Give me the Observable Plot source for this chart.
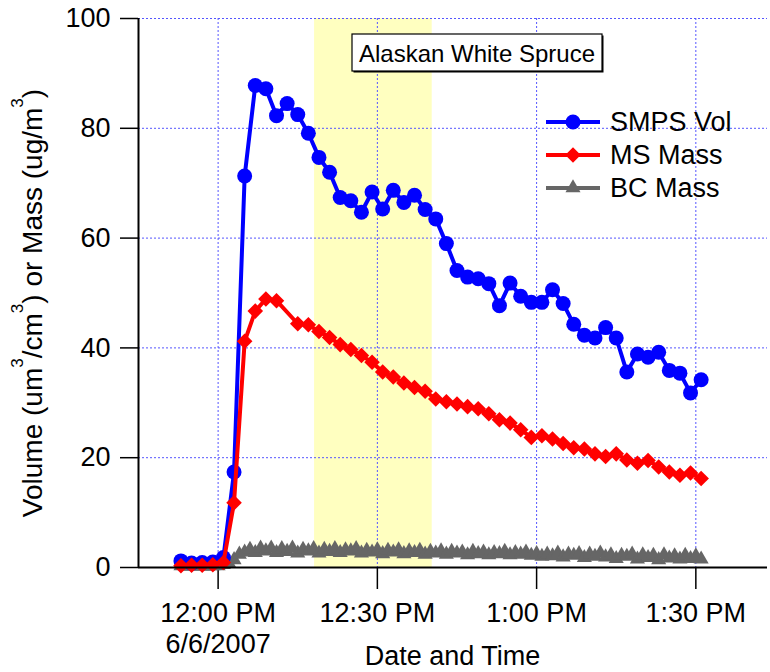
<!DOCTYPE html>
<html>
<head>
<meta charset="utf-8">
<script src="https://cdn.jsdelivr.net/npm/d3@7"></script>
<script src="https://cdn.jsdelivr.net/npm/@observablehq/plot@0.6"></script>
<style>
  html, body { margin: 0; padding: 0; background: #fff; }
  #chart svg { display: block; }
</style>
</head>
<body>
<div id="chart"></div>
<script>
// Sampling times (local clock, 6 June 2007) for the SMPS and MS instruments
const sampleTimes = [
  "11:53","11:55","11:57","11:59","12:01","12:03","12:05","12:07","12:09","12:11",
  "12:13","12:15","12:17","12:19","12:21","12:23","12:25","12:27","12:29","12:31",
  "12:33","12:35","12:37","12:39","12:41","12:43","12:45","12:47","12:49","12:51",
  "12:53","12:55","12:57","12:59","13:01","13:03","13:05","13:07","13:09","13:11",
  "13:13","13:15","13:17","13:19","13:21","13:23","13:25","13:27","13:29","13:31"
];

// SMPS volume concentration (um^3/cm^3)
const smpsVolume = [
  1.2, 0.8, 0.9, 1.0, 1.8, 17.4, 71.3, 87.8, 87.2, 82.3,
  84.5, 82.5, 79.1, 74.7, 72.0, 67.4, 66.8, 64.7, 68.4, 65.3,
  68.7, 66.5, 67.8, 65.2, 63.5, 59.0, 54.1, 52.9, 52.6, 51.7,
  47.7, 51.8, 49.4, 48.3, 48.3, 50.6, 48.1, 44.3, 42.3, 41.8,
  43.7, 41.8, 35.6, 38.9, 38.3, 39.2, 35.9, 35.4, 31.8, 34.2
];

// Aerosol mass spectrometer mass (ug/m^3); null = no sample
const msMass = [
  0.3, 0.4, 0.4, 0.5, 0.9, 11.8, 41.2, 46.7, 48.9, 48.6,
  null, 44.4, 44.2, 43.0, 41.9, 40.6, 39.7, 38.6, 37.4, 35.6,
  34.7, 33.6, 32.8, 32.1, 30.7, 30.2, 29.8, 29.3, 28.9, 28.0,
  26.9, 26.3, 25.1, 23.7, 24.0, 23.4, 22.6, 21.8, 21.6, 20.7,
  20.2, 20.7, 19.6, 19.0, 19.5, 18.3, 17.4, 16.8, 17.2, 16.2
];

// Black carbon, one-minute resolution
const bcTimes = [
  "11:53","11:54","11:55","11:56","11:57","11:58","11:59",
  "12:00","12:01","12:02","12:03","12:04","12:05","12:06","12:07","12:08","12:09",
  "12:10","12:11","12:12","12:13","12:14","12:15","12:16","12:17","12:18","12:19",
  "12:20","12:21","12:22","12:23","12:24","12:25","12:26","12:27","12:28","12:29",
  "12:30","12:31","12:32","12:33","12:34","12:35","12:36","12:37","12:38","12:39",
  "12:40","12:41","12:42","12:43","12:44","12:45","12:46","12:47","12:48","12:49",
  "12:50","12:51","12:52","12:53","12:54","12:55","12:56","12:57","12:58","12:59",
  "13:00","13:01","13:02","13:03","13:04","13:05","13:06","13:07","13:08","13:09",
  "13:10","13:11","13:12","13:13","13:14","13:15","13:16","13:17","13:18","13:19",
  "13:20","13:21","13:22","13:23","13:24","13:25","13:26","13:27","13:28","13:29",
  "13:30","13:31"
];
const bcMass = [
  0.3, 0.2, 0.3, 0.2, 0.3, 0.2, 0.3,
  0.3, 0.5, 0.8, 1.4, 2.4, 2.8, 3.3, 2.7, 3.5, 3.0,
  3.5, 2.7, 3.4, 2.9, 3.5, 2.6, 3.3, 3.0, 3.4, 2.6,
  3.3, 2.9, 3.4, 2.7, 3.2, 3.0, 3.4, 2.6, 3.1, 2.8,
  3.2, 2.5, 3.1, 2.8, 3.2, 2.5, 3.0, 2.7, 3.1, 2.4,
  2.9, 2.6, 3.0, 2.4, 2.9, 2.6, 2.8, 2.3, 2.9, 2.5,
  2.8, 2.3, 2.7, 2.5, 2.9, 2.3, 2.7, 2.4, 2.8, 2.2,
  2.5, 2.0, 2.4, 2.1, 2.6, 1.9, 2.4, 2.2, 2.5, 1.8,
  2.4, 2.0, 2.6, 1.9, 2.3, 1.6, 2.2, 2.0, 2.4, 1.5,
  2.3, 1.8, 2.2, 1.4, 2.3, 1.7, 2.1, 1.5, 2.2, 1.6,
  2.1, 1.5
];

const seriesNames = ["SMPS Vol", "MS Mass", "BC Mass"];
const seriesColors = ["#0000ff", "#ff0000", "#666666"];
const xTicks = ["12:00", "12:30", "13:00", "13:30"];
const xTickLabels = ["12:00 PM\n6/6/2007", "12:30 PM", "1:00 PM", "1:30 PM"];
const yTicks = [0, 20, 40, 60, 80, 100];
const xDomain = ["11:45", "13:43:30"];
const yDomain = [0, 100];
const burnWindow = ["12:18:10", "12:40:20"];
const fuelLabel = "Alaskan White Spruce";
const xTitle = "Date and Time";

const FONT = "'Liberation Sans', Arial, Helvetica, sans-serif";
const GRID = "#5555ff";
const R = {circle: 7.5, diamond: 7, triangle: 5.6};

const toDate = (s) => {
  const [h, m, sec = 0] = s.split(":").map(Number);
  return new Date(Date.UTC(2007, 5, 6, h, m, sec));
};

const smps = sampleTimes.map((t, i) => ({t: toDate(t), v: smpsVolume[i]}));
const ms = sampleTimes.map((t, i) => ({t: toDate(t), v: msMass[i]})).filter((d) => d.v != null);
const bc = bcTimes.map((t, i) => ({t: toDate(t), v: bcMass[i]}));

const xTickDates = xTicks.map(toDate);
const tickText = (d) => xTickLabels[xTickDates.findIndex((t) => +t === +d)];

const chart = Plot.plot({
  width: 770,
  height: 672,
  marginLeft: 138,
  marginRight: 3,
  marginTop: 18,
  marginBottom: 105,
  style: {fontFamily: FONT, fontSize: "27px", color: "#000", background: "#fff", overflow: "visible"},
  x: {type: "utc", domain: xDomain.map(toDate)},
  y: {domain: yDomain},
  marks: [
    // shaded sampling window
    Plot.rect([burnWindow], {x1: (d) => toDate(d[0]), x2: (d) => toDate(d[1]), fill: "#ffffc0"}),
    Plot.gridY(yTicks.slice(1), {stroke: GRID, strokeOpacity: 1, strokeWidth: 1, strokeDasharray: "2,2"}),
    Plot.gridX(xTickDates, {stroke: GRID, strokeOpacity: 1, strokeWidth: 1, strokeDasharray: "2,2"}),
    Plot.axisY(yTicks, {tickSize: 18, tickPadding: 10, fontSize: 27, strokeWidth: 1.5, label: null}),
    Plot.axisX(xTickDates, {tickSize: 22, tickPadding: 10, fontSize: 27, strokeWidth: 1.5, label: null,
      tickFormat: tickText, lineHeight: 1.15}),
    // black carbon
    Plot.line(bc, {x: "t", y: "v", stroke: seriesColors[2], strokeWidth: 4}),
    Plot.dot(bc, {x: "t", y: "v", symbol: "triangle", r: R.triangle, fill: seriesColors[2], stroke: "none"}),
    // SMPS volume
    Plot.line(smps, {x: "t", y: "v", stroke: seriesColors[0], strokeWidth: 4}),
    Plot.dot(smps, {x: "t", y: "v", symbol: "circle", r: R.circle, fill: seriesColors[0], stroke: "none"}),
    // MS mass
    Plot.line(ms, {x: "t", y: "v", stroke: seriesColors[1], strokeWidth: 4}),
    Plot.dot(ms, {x: "t", y: "v", symbol: "diamond2", r: R.diamond, fill: seriesColors[1], stroke: "none"}),
    // axis lines
    Plot.ruleY([yDomain[0]], {stroke: "#000", strokeWidth: 2}),
    Plot.ruleX([toDate(xDomain[0])], {stroke: "#000", strokeWidth: 2})
  ]
});

document.getElementById("chart").appendChild(chart);

const svg = d3.select(chart);
const xs = chart.scale("x");

// fuel label box
const box = svg.append("g").attr("font-family", FONT);
box.append("rect").attr("x", 353.5).attr("y", 35.5).attr("width", 250).attr("height", 37).attr("fill", "#000");
box.append("rect").attr("x", 352).attr("y", 34).attr("width", 250).attr("height", 37)
  .attr("fill", "#fff").attr("stroke", "#000").attr("stroke-width", 1.2);
box.append("text").attr("x", 477).attr("y", 62).attr("text-anchor", "middle")
  .attr("font-size", 24).attr("fill", "#000").text(fuelLabel);

// legend
const legend = svg.append("g").attr("font-family", FONT).attr("font-size", 27).attr("text-anchor", "start");
const legendSymbols = [
  d3.symbol(d3.symbolCircle, Math.PI * R.circle * R.circle),
  d3.symbol(d3.symbolDiamond2, Math.PI * R.diamond * R.diamond),
  d3.symbol(d3.symbolTriangle, Math.PI * R.triangle * R.triangle)
];
const legendRows = [122, 155, 188];
seriesNames.forEach((name, i) => {
  const g = legend.append("g").attr("transform", `translate(0,${legendRows[i]})`);
  g.append("line").attr("x1", 546).attr("x2", 600).attr("stroke", seriesColors[i]).attr("stroke-width", 4);
  g.append("path").attr("transform", "translate(573,0)").attr("d", legendSymbols[i]()).attr("fill", seriesColors[i]);
  g.append("text").attr("x", 610).attr("dy", "0.35em").attr("text-anchor", "start").attr("fill", "#000").text(name);
});

// axis titles
svg.append("text").attr("x", (xs.range[0] + xs.range[1]) / 2).attr("y", 665)
  .attr("text-anchor", "middle").attr("font-family", FONT).attr("font-size", 27).attr("fill", "#000").text(xTitle);

const yTitle = svg.append("text").attr("transform", "translate(42,303) rotate(-90)")
  .attr("text-anchor", "middle").attr("font-family", FONT).attr("font-size", 28).attr("fill", "#000");
const parts = [["Volume (um", false], ["3", true], ["/cm", false], ["3", true], [") or Mass (ug/m", false], ["3", true], [")", false]];
let raised = false;
parts.forEach(([txt, sup]) => {
  const t = yTitle.append("tspan").text(txt);
  if (sup) { t.attr("font-size", 17).attr("dy", -19); raised = true; }
  else if (raised) { t.attr("dy", 19); raised = false; }
});
</script>
</body>
</html>
